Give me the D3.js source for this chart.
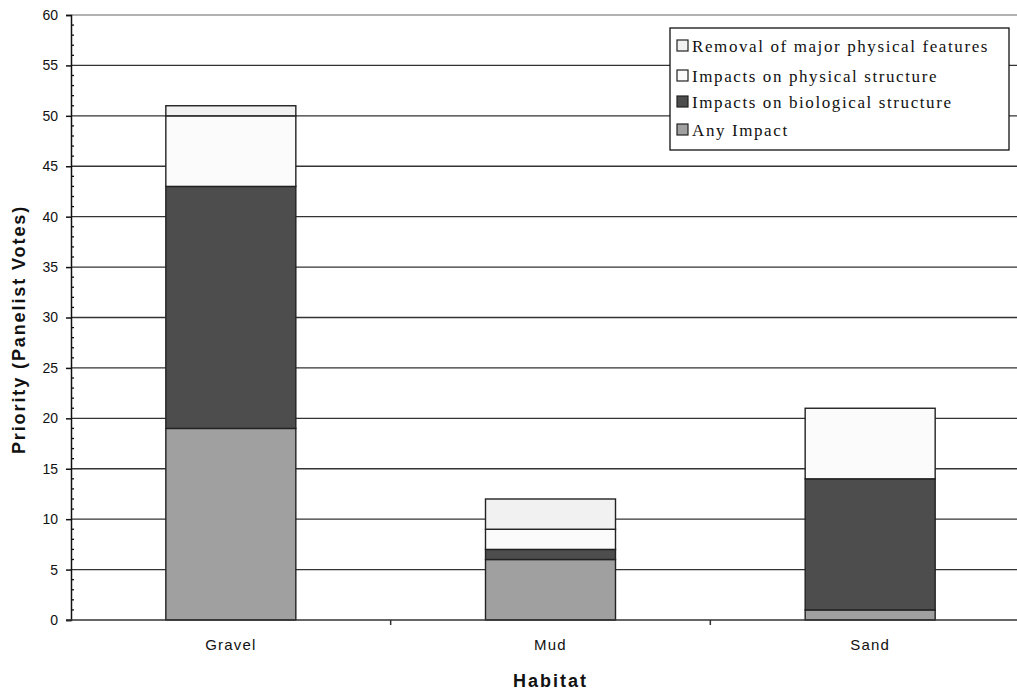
<!DOCTYPE html>
<html>
<head>
<meta charset="utf-8">
<script src="https://cdn.jsdelivr.net/npm/d3@7"></script>
<style>
  body { margin: 0; background: #fff; }
  svg { display: block; }
</style>
</head>
<body>
<svg id="chart" width="1017" height="696"></svg>
<script>
// Habitats and votes per impact type (stacked bottom to top)
const habitats = ["Gravel", "Mud", "Sand"];
const anyImpact = [19, 6, 1];
const biological = [24, 1, 13];
const physical = [7, 2, 7];
const removal = [1, 3, 0];
const yTicks = [0, 5, 10, 15, 20, 25, 30, 35, 40, 45, 50, 55, 60];

const seriesKeys = ["any", "bio", "phys", "rem"];
const seriesNames = {
  rem: "Removal of major physical features",
  phys: "Impacts on physical structure",
  bio: "Impacts on biological structure",
  any: "Any Impact"
};
const seriesColors = { any: "#a0a0a0", bio: "#4d4d4d", phys: "#fbfbfb", rem: "#f1f1f1" };

const rows = habitats.map((h, i) => ({
  habitat: h, any: anyImpact[i], bio: biological[i], phys: physical[i], rem: removal[i]
}));

const svg = d3.select("#chart");
const margin = { left: 71, right: -13, top: 15, bottom: 76 };
const W = 1017, H = 696;
const sans = "Liberation Sans, Arial, sans-serif";

const x = d3.scaleBand().domain(habitats).range([margin.left, W - margin.right]).padding(0);
const y = d3.scaleLinear().domain([0, 60]).range([H - margin.bottom, margin.top]);
const barW = 130;

// Gridlines
svg.append("g").selectAll("line").data(yTicks.filter(d => d > 0)).join("line")
  .attr("x1", margin.left).attr("x2", W)
  .attr("y1", d => y(d)).attr("y2", d => y(d))
  .attr("stroke", d => d === 60 ? "#999" : "#333")
  .attr("stroke-width", 1.3);

// Stacked bars
const stack = d3.stack().keys(seriesKeys)(rows);
svg.append("g").selectAll("g").data(stack).join("g")
  .attr("fill", d => seriesColors[d.key])
  .selectAll("rect").data(d => d.filter(s => s[1] - s[0] > 0)).join("rect")
  .attr("x", d => x(d.data.habitat) + x.bandwidth() / 2 - barW / 2)
  .attr("width", barW)
  .attr("y", d => y(d[1]))
  .attr("height", d => y(d[0]) - y(d[1]))
  .attr("stroke", "#222")
  .attr("stroke-width", 1.4);

// Y axis
const yAxis = d3.axisLeft(y).tickValues(yTicks).tickSize(5).tickPadding(8);
const gy = svg.append("g").attr("transform", `translate(${margin.left},0)`).call(yAxis);
gy.select(".domain").attr("stroke", "#111").attr("stroke-width", 1.5);
gy.selectAll(".tick line").attr("stroke", "#111").attr("stroke-width", 1.5);
gy.selectAll("text").attr("font-family", sans)
  .attr("font-size", 14).attr("fill", "#111");

// Minor ticks on the inside of the y axis
svg.append("g").selectAll("line").data(d3.range(0, 61).filter(v => v % 5 !== 0)).join("line")
  .attr("x1", margin.left).attr("x2", margin.left + 3)
  .attr("y1", d => y(d)).attr("y2", d => y(d))
  .attr("stroke", "#111").attr("stroke-width", 1.3);

// X axis
const gx = svg.append("g").attr("transform", `translate(0,${y(0)})`)
  .call(d3.axisBottom(x).tickSize(0).tickPadding(19));
gx.select(".domain").remove();
svg.append("line").attr("x1", margin.left - 5).attr("x2", W)
  .attr("y1", y(0)).attr("y2", y(0)).attr("stroke", "#333").attr("stroke-width", 1.5);
// Category separator ticks
svg.append("g").selectAll("line").data(habitats.slice(1)).join("line")
  .attr("x1", d => x(d)).attr("x2", d => x(d))
  .attr("y1", y(0)).attr("y2", y(0) + 5)
  .attr("stroke", "#333").attr("stroke-width", 1.5);
gx.selectAll("text").attr("font-family", sans)
  .attr("font-size", 15).attr("fill", "#111").attr("letter-spacing", "1.2px");

// Axis titles
svg.append("text").attr("x", x("Mud") + x.bandwidth() / 2).attr("y", 687)
  .attr("text-anchor", "middle").attr("font-family", sans)
  .attr("font-weight", "bold").attr("font-size", 18).attr("letter-spacing", "2px")
  .attr("fill", "#111").text("Habitat");
svg.append("text")
  .attr("transform", `translate(25,${(y(0) + y(60)) / 2 + 12}) rotate(-90)`)
  .attr("text-anchor", "middle").attr("font-family", sans)
  .attr("font-weight", "bold").attr("font-size", 18).attr("letter-spacing", "1.9px")
  .attr("fill", "#111").text("Priority (Panelist Votes)");

// Legend
const legend = svg.append("g").attr("transform", "translate(670,28)");
legend.append("rect").attr("width", 339).attr("height", 122)
  .attr("fill", "#fff").attr("stroke", "#111").attr("stroke-width", 1.3);
const legendKeys = ["rem", "phys", "bio", "any"];
const legendY = [19, 49, 75, 103];
legendKeys.forEach((k, i) => {
  const g = legend.append("g").attr("transform", `translate(7,${legendY[i]})`);
  g.append("rect").attr("x", 0).attr("y", -7).attr("width", 11).attr("height", 11)
    .attr("fill", seriesColors[k]).attr("stroke", "#222").attr("stroke-width", 1.2);
  g.append("text").attr("x", 15).attr("y", 5)
    .attr("font-family", "Liberation Serif, Times New Roman, serif")
    .attr("font-size", 17).attr("letter-spacing", "1.6px")
    .attr("fill", "#111").text(seriesNames[k]);
});
</script>
</body>
</html>
